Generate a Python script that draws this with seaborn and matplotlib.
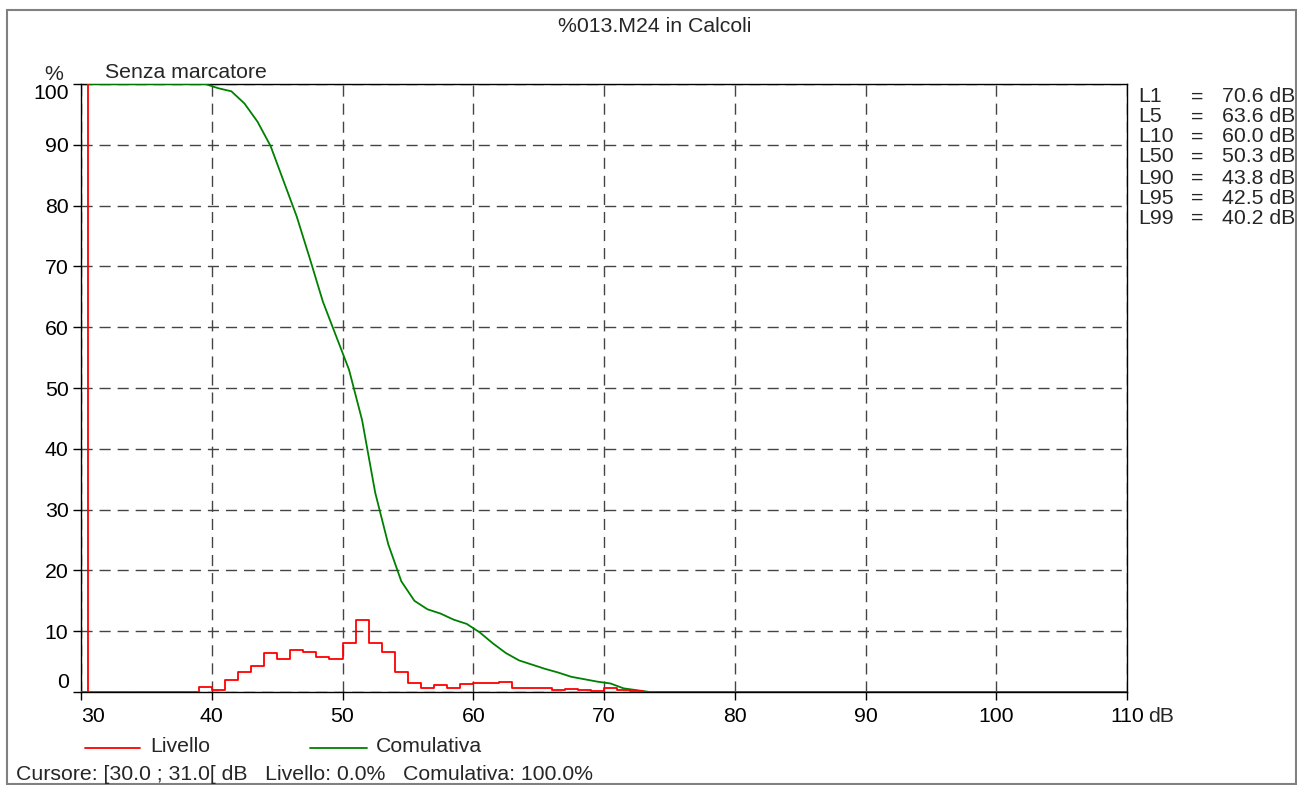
import matplotlib
matplotlib.use("Agg")
import matplotlib.pyplot as plt
import seaborn as sns
import pandas as pd
from matplotlib.lines import Line2D
from matplotlib.patches import Rectangle

# ---------------- data ----------------
level_db = list(range(30, 110))          # lower edge of 1 dB classes
level_pct = ([0.0] * 9 +
             [0.9, 0.4, 2.0, 3.35, 4.2, 6.4, 5.4, 6.9, 6.5, 5.8, 5.4,
              8.1, 11.8, 8.0, 6.5, 3.3, 1.4, 0.6, 1.1, 0.6, 1.3, 1.5,
              1.5, 1.6, 0.6, 0.6, 0.7, 0.4, 0.5, 0.4, 0.2, 0.7, 0.3, 0.2] +
             [0.0] * 37)

cum_db = [30.5 + i for i in range(44)] + [110]
cum_pct = ([100.0] * 10 +
           [99.3, 98.8, 96.8, 93.8, 89.8, 84.0, 78.2, 71.3, 64.2, 58.6,
            53.0, 44.7, 32.8, 24.3, 18.2, 15.0, 13.6, 12.9, 11.9, 11.2,
            9.8, 8.0, 6.4, 5.2, 4.5, 3.8, 3.2, 2.5, 2.1, 1.7, 1.4, 0.6,
            0.3, 0.0] + [0.0])

cursor_db = 30.5
x_ticks = [30, 40, 50, 60, 70, 80, 90, 100, 110]
y_ticks = [0, 10, 20, 30, 40, 50, 60, 70, 80, 90, 100]

stat_names = ["L1", "L5", "L10", "L50", "L90", "L95", "L99"]
stat_values = ["70.6 dB", "63.6 dB", "60.0 dB", "50.3 dB", "43.8 dB", "42.5 dB", "40.2 dB"]

title = "%013.M24 in Calcoli"
subtitle = "Senza marcatore"
cursor_text = "Cursore: [30.0 ; 31.0[ dB   Livello: 0.0%   Comulativa: 100.0%"

# ---------------- style ----------------
sns.set_theme(style="white")
plt.rcParams["font.family"] = ["Liberation Sans", "DejaVu Sans"]
FS = 15.3

W, H = 1297, 785
fig = plt.figure(figsize=(W / 100, H / 100), dpi=100)

def fx(x):
    return x / W

def fy(y):
    return 1 - y / H

ax = fig.add_axes([fx(81), fy(692), fx(1127) - fx(81), fy(84) - fy(692)])

hist_df = pd.DataFrame({"dB": level_db + [110],
                        "pct": level_pct + [level_pct[-1]]})
cum_df = pd.DataFrame({"dB": cum_db, "pct": cum_pct})

sns.lineplot(data=hist_df, x="dB", y="pct", ax=ax, color="#ff0000",
             linewidth=1.3, drawstyle="steps-post", estimator=None,
             sort=False, zorder=4)
sns.lineplot(data=cum_df, x="dB", y="pct", ax=ax, color="#008000",
             linewidth=1.3, estimator=None, sort=False, zorder=3)
ax.axvline(cursor_db, color="#ff0000", linewidth=1.3, zorder=5)

ax.set_xlim(30, 110)
ax.set_ylim(0, 100)
ax.set_xticks(x_ticks)
ax.set_yticks(y_ticks)
ax.set_xticklabels([str(v) for v in x_ticks])
ax.set_yticklabels([str(v) for v in y_ticks])
ax.set_xlabel("")
ax.set_ylabel("")

ax.grid(True, which="major", linestyle=(0, (8, 5)), color="#444444",
        linewidth=1.0)
ax.set_axisbelow(True)

for s in ax.spines.values():
    s.set_visible(True)
    s.set_color("black")
    s.set_linewidth(1.0)

ax.tick_params(axis="both", which="major", direction="out", length=6,
               width=1.0, color="black", labelsize=FS, labelcolor="black",
               bottom=True, left=True)
ax.tick_params(axis="x", pad=5)
ax.tick_params(axis="y", pad=3)

for lbl in ax.get_yticklabels():
    if lbl.get_text() == "100":
        lbl.set_verticalalignment("top")
    elif lbl.get_text() == "0":
        lbl.set_verticalalignment("bottom")
for lbl in ax.get_xticklabels():
    if lbl.get_text() == "30":
        lbl.set_horizontalalignment("left")

# ---------------- texts ----------------
fig.text(fx(655), fy(27), title, ha="center", va="center", fontsize=FS)
fig.text(fx(54), fy(74), "%", ha="center", va="center", fontsize=FS)
fig.text(fx(105), fy(72), subtitle, ha="left", va="center", fontsize=FS)
fig.text(fx(1148), fy(717), "dB", ha="left", va="center", fontsize=FS)

row_y = [97, 117, 137, 157, 178, 198, 218]
for name, val, yy in zip(stat_names, stat_values, row_y):
    fig.text(fx(1138), fy(yy), name, ha="left", va="center", fontsize=FS)
    fig.text(fx(1197), fy(yy), "=", ha="center", va="center", fontsize=FS)
    fig.text(fx(1295), fy(yy), val, ha="right", va="center", fontsize=FS)

# legend (manual)
fig.add_artist(Line2D([fx(85), fx(140)], [fy(748), fy(748)],
                      color="#ff0000", linewidth=1.3))
fig.text(fx(150), fy(746), "Livello", ha="left", va="center", fontsize=FS)
fig.add_artist(Line2D([fx(310), fx(367)], [fy(748), fy(748)],
                      color="#008000", linewidth=1.3))
fig.text(fx(376), fy(746), "Comulativa", ha="left", va="center", fontsize=FS)

fig.text(fx(16), fy(775), cursor_text, ha="left", va="center", fontsize=FS)

# outer frame
fig.add_artist(Rectangle((fx(7), fy(784)), fx(1296) - fx(7), fy(10) - fy(784),
                         fill=False, edgecolor="#808080", linewidth=1.5,
                         transform=fig.transFigure))

fig.savefig("out.png", dpi=100)
